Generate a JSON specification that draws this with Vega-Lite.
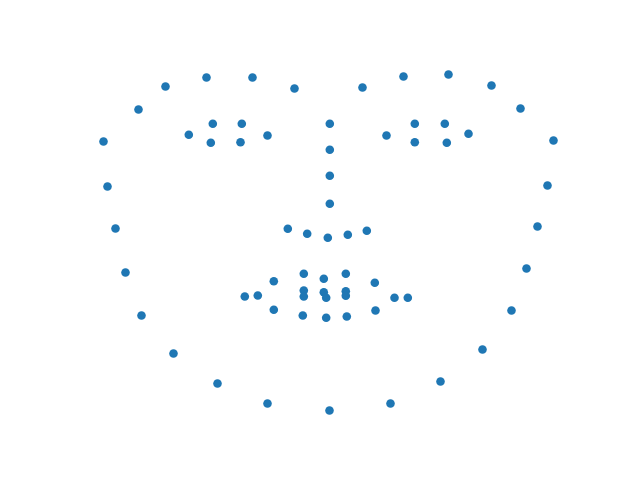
{
  "$schema": "https://vega.github.io/schema/vega-lite/v6.json",
  "width": 640,
  "height": 480,
  "autosize": {"type": "fit", "contains": "padding"},
  "padding": 0,
  "background": "white",
  "config": {"view": {"stroke": null}},
  "data": {"values": [
    {"x": 103, "y": 141}, {"x": 107, "y": 186}, {"x": 115, "y": 228}, {"x": 125, "y": 272},
    {"x": 141, "y": 315}, {"x": 173, "y": 353}, {"x": 217, "y": 383}, {"x": 267, "y": 403},
    {"x": 329, "y": 410}, {"x": 390, "y": 403}, {"x": 440, "y": 381}, {"x": 482, "y": 349},
    {"x": 511, "y": 310}, {"x": 526, "y": 268}, {"x": 537, "y": 226}, {"x": 547, "y": 185},
    {"x": 553, "y": 140},
    {"x": 138, "y": 109}, {"x": 165, "y": 86}, {"x": 206, "y": 77}, {"x": 252, "y": 77}, {"x": 294, "y": 88},
    {"x": 362, "y": 87}, {"x": 403, "y": 76}, {"x": 448, "y": 74}, {"x": 491, "y": 85}, {"x": 520, "y": 108},
    {"x": 329.3, "y": 123.3}, {"x": 329.3, "y": 149.3}, {"x": 329.3, "y": 175.3}, {"x": 329.3, "y": 203.3},
    {"x": 287.3, "y": 228.3}, {"x": 306.7, "y": 233.3}, {"x": 327.3, "y": 237.3}, {"x": 347.3, "y": 234.3}, {"x": 366.3, "y": 230.3},
    {"x": 188.3, "y": 134.3}, {"x": 212.3, "y": 123.3}, {"x": 241.3, "y": 123.3}, {"x": 267, "y": 135}, {"x": 240, "y": 141.7}, {"x": 210.3, "y": 142.3},
    {"x": 386, "y": 135}, {"x": 414.3, "y": 123.3}, {"x": 444.3, "y": 123.3}, {"x": 468, "y": 133.3}, {"x": 446.3, "y": 142.3}, {"x": 414.3, "y": 141.7},
    {"x": 244.3, "y": 296}, {"x": 273.3, "y": 280.7}, {"x": 303.3, "y": 273.3}, {"x": 323.3, "y": 278.3}, {"x": 345.3, "y": 273.3}, {"x": 374.3, "y": 282.3},
    {"x": 407.3, "y": 297.3}, {"x": 375, "y": 310}, {"x": 346.3, "y": 316}, {"x": 325.7, "y": 317.3}, {"x": 302.3, "y": 315}, {"x": 273.3, "y": 309.3},
    {"x": 257.3, "y": 295}, {"x": 303.3, "y": 290}, {"x": 323.3, "y": 291.7}, {"x": 345.3, "y": 290.7}, {"x": 394, "y": 297.3},
    {"x": 345.3, "y": 295.3}, {"x": 325.7, "y": 297.3}, {"x": 303.3, "y": 296}
  ]},
  "mark": {"type": "circle", "size": 74, "color": "#1f77b4", "opacity": 1},
  "encoding": {
    "x": {"field": "x", "type": "quantitative", "scale": {"domain": [-0.5, 639.5], "nice": false, "zero": false}, "axis": null},
    "y": {"field": "y", "type": "quantitative", "scale": {"domain": [-0.5, 479.5], "nice": false, "zero": false, "reverse": true}, "axis": null}
  }
}
